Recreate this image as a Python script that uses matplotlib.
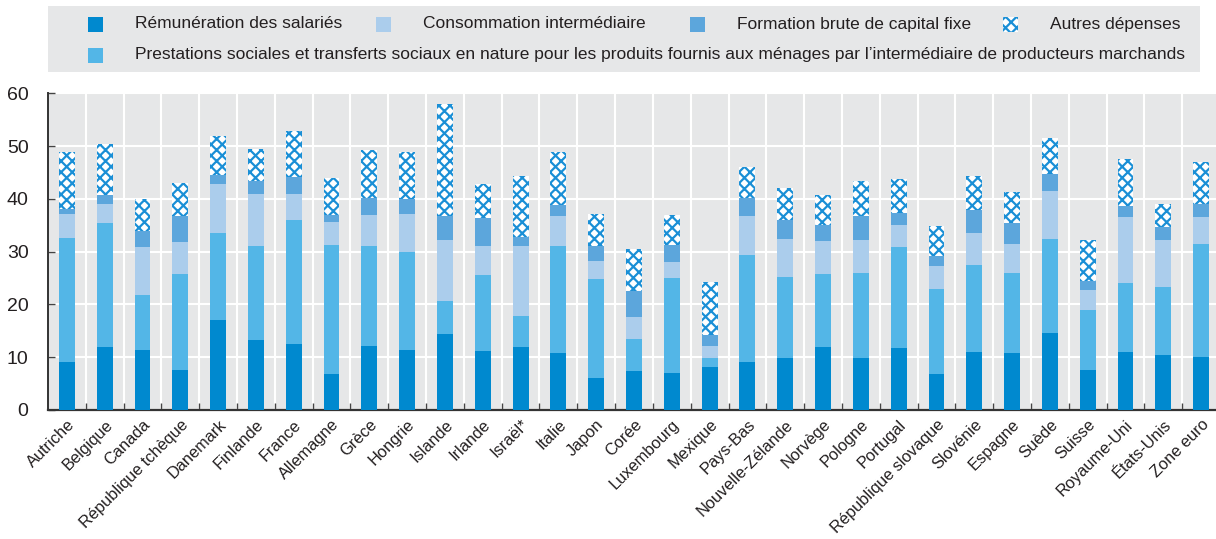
import numpy as np
import matplotlib
matplotlib.use('Agg')
import matplotlib.pyplot as plt
from matplotlib.patches import Rectangle

plt.rcParams['font.family'] = ['Liberation Sans', 'DejaVu Sans']
plt.rcParams['hatch.linewidth'] = 1.6

countries = ['Autriche', 'Belgique', 'Canada', 'République tchèque', 'Danemark', 'Finlande',
             'France', 'Allemagne', 'Grèce', 'Hongrie', 'Islande', 'Irlande', 'Israël*', 'Italie',
             'Japon', 'Corée', 'Luxembourg', 'Mexique', 'Pays-Bas', 'Nouvelle-Zélande', 'Norvège',
             'Pologne', 'Portugal', 'République slovaque', 'Slovénie', 'Espagne', 'Suède', 'Suisse',
             'Royaume-Uni', 'États-Unis', 'Zone euro']

# cumulative tops (% of GDP)
top_remun = [9.1, 12.0, 11.4, 7.6, 17.0, 13.2, 12.5, 6.8, 12.1, 11.4, 14.4, 11.2, 11.9, 10.8,
             6.1, 7.4, 7.0, 8.1, 9.1, 9.8, 11.9, 9.8, 11.7, 6.8, 11.0, 10.8, 14.6, 7.6,
             11.0, 10.4, 10.0]
top_prest = [32.6, 35.4, 21.8, 25.7, 33.5, 31.0, 36.0, 31.2, 31.0, 29.9, 20.6, 25.6, 17.8, 31.0,
             24.8, 13.4, 25.0, 9.8, 29.3, 25.2, 25.7, 25.9, 30.9, 22.9, 27.4, 25.9, 32.4, 18.9,
             24.0, 23.3, 31.4]
top_conso = [37.1, 39.0, 30.9, 31.8, 42.8, 40.9, 40.9, 35.6, 36.9, 37.1, 32.2, 31.0, 31.0, 36.7,
             28.2, 17.6, 28.0, 12.1, 36.7, 32.4, 32.0, 32.2, 35.0, 27.3, 33.5, 31.4, 41.5, 22.7,
             36.5, 32.2, 36.5]
top_fbcf = [38.0, 40.7, 33.9, 36.8, 44.5, 43.3, 44.1, 37.0, 40.1, 40.0, 36.7, 36.4, 32.7, 38.8,
            31.1, 22.6, 31.2, 14.2, 40.2, 36.0, 35.0, 36.7, 37.3, 29.1, 37.9, 35.4, 44.7, 24.4,
            38.7, 34.6, 39.0]
top_autres = [48.9, 50.4, 40.0, 43.0, 51.9, 49.4, 52.8, 43.9, 49.2, 48.9, 57.9, 42.8, 44.3, 48.9,
              37.1, 30.5, 36.9, 24.2, 46.0, 42.0, 40.7, 43.3, 43.7, 34.8, 44.3, 41.3, 51.5, 32.2,
              47.5, 39.0, 46.9]

c_remun = '#0089cf'
c_prest = '#53b6e7'
c_conso = '#abcdec'
c_fbcf = '#5ca6dc'
c_hatch = '#1a8fd6'

labels = ['Rémunération des salariés',
          'Prestations sociales et transferts sociaux en nature pour les produits fournis aux ménages par l\u2019intermédiaire de producteurs marchands',
          'Consommation intermédiaire', 'Formation brute de capital fixe', 'Autres dépenses']

t0 = np.array(top_remun)
t1 = np.array(top_prest)
t2 = np.array(top_conso)
t3 = np.array(top_fbcf)
t4 = np.array(top_autres)
x = np.arange(len(countries))

fig = plt.figure(figsize=(12.16, 5.39), dpi=100)
ax = fig.add_axes([48 / 1216, 129 / 539, 1172 / 1216, 316.7 / 539])
ax.set_facecolor('#e6e7e8')

w = 0.42
ax.bar(x, t0, w, color=c_remun, zorder=3)
ax.bar(x, t1 - t0, w, bottom=t0, color=c_prest, zorder=3)
ax.bar(x, t2 - t1, w, bottom=t1, color=c_conso, zorder=3)
ax.bar(x, t3 - t2, w, bottom=t2, color=c_fbcf, zorder=3)
ax.bar(x, t4 - t3, w, bottom=t3, facecolor='white', edgecolor=c_hatch, hatch='xxx',
       linewidth=0, zorder=3)

ax.set_xlim(-0.5, len(countries) - 0.5)
ax.set_ylim(0, 60)
ax.set_yticks(range(0, 61, 10))
ax.set_xticks(x)
ax.set_xticklabels(countries, rotation=45, ha='right', rotation_mode='anchor', fontsize=11.8,
                   color='#231f20')
ax.set_xticks(x[:-1] + 0.5, minor=True)
ax.tick_params(axis='x', which='major', length=0, pad=5)
ax.tick_params(axis='x', which='minor', direction='in', length=5, width=1, color='#444444')
ax.tick_params(axis='y', direction='in', length=5, width=1, color='#444444', labelsize=14,
               labelcolor='#231f20', pad=14)
ax.grid(True, axis='y', which='major', color='white', linewidth=1.5, zorder=1)
ax.grid(True, axis='x', which='minor', color='white', linewidth=1.5, zorder=1)
ax.grid(False, axis='x', which='major')
ax.set_axisbelow(True)
for s in ['top', 'right']:
    ax.spines[s].set_visible(False)
ax.spines['left'].set_color('#333333')
ax.spines['left'].set_linewidth(1.4)
ax.spines['bottom'].set_color('#333333')
ax.spines['bottom'].set_linewidth(1.6)

# legend box
lax = fig.add_axes([48 / 1216, 467 / 539, 1152 / 1216, 66 / 539])
lax.set_xlim(48, 1200)
lax.set_ylim(539 - 467, 539 - 533)
lax.set_facecolor('#e6e7e8')
lax.set_xticks([])
lax.set_yticks([])
for s in lax.spines.values():
    s.set_visible(False)

items = [(88, 24, c_remun, None, labels[0]),
         (376, 24, c_conso, None, labels[2]),
         (690, 24, c_fbcf, None, labels[3]),
         (1003, 24, 'white', c_hatch, labels[4]),
         (88, 55, c_prest, None, labels[1])]
for px, py, fc, hc, txt in items:
    if hc is None:
        lax.add_patch(Rectangle((px, py - 7.5), 15, 15, facecolor=fc, linewidth=0))
    else:
        lax.add_patch(Rectangle((px, py - 7.5), 15, 15, facecolor=fc, edgecolor=hc,
                                hatch='xxx', linewidth=0))
    lax.text(px + 47, py, txt, va='center', ha='left', fontsize=12.5, color='#231f20')

fig.savefig('out.png', dpi=100)
